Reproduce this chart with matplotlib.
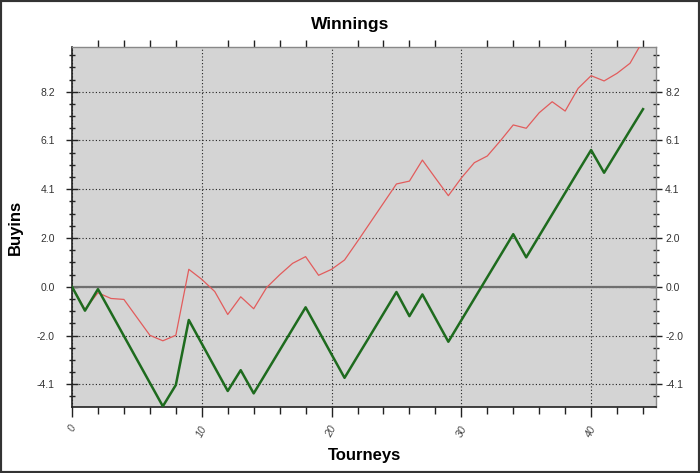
import matplotlib
matplotlib.use("Agg")
import matplotlib.pyplot as plt
from matplotlib.patches import Rectangle
from matplotlib.ticker import MultipleLocator, FuncFormatter, FixedLocator
import matplotlib.transforms as mtransforms

tourneys = list(range(45))
green_vals = [0, -1.0, -0.1, -1.08, -2.06, -3.04, -4.02, -5.0, -4.11, -1.39,
              -2.38, -3.37, -4.36, -3.49, -4.46, -3.56, -2.66, -1.76, -0.86, -1.84,
              -2.83, -3.81, -2.91, -2.02, -1.12, -0.22, -1.23, -0.32, -1.31, -2.30,
              -1.40, -0.50, 0.40, 1.30, 2.20, 1.23, 2.13, 3.03, 3.93, 4.83,
              5.72, 4.77, 5.66, 6.55, 7.43]
red_vals = [0, -0.95, -0.25, -0.49, -0.53, -1.28, -2.03, -2.26, -2.03, 0.73,
            0.31, -0.2, -1.16, -0.42, -0.92, -0.03, 0.5, 0.98, 1.26, 0.48,
            0.73, 1.12, 1.9, 2.7, 3.5, 4.3, 4.42, 5.3, 4.55, 3.81,
            4.55, 5.19, 5.47, 6.1, 6.77, 6.63, 7.28, 7.74, 7.35, 8.3,
            8.83, 8.61, 8.93, 9.35, 10.3]
ytick_step = 2.04
title = "Winnings"
xlabel = "Tourneys"
ylabel = "Buyins"

plt.rcParams['font.family'] = ['Liberation Sans', 'DejaVu Sans']

fig = plt.figure(figsize=(7.0, 4.73), dpi=100)
ax = fig.add_axes([72/700, 1-407/473, 584/700, 360/473])
ax.set_facecolor('#d4d4d4')

ax.set_xlim(0, 45)
ax.set_ylim(-5.03, 10.03)

ax.xaxis.set_major_locator(MultipleLocator(10))
ax.xaxis.set_minor_locator(MultipleLocator(2))
yt = [ytick_step * k for k in range(-2, 5)]
ax.yaxis.set_major_locator(FixedLocator(yt))
ax.yaxis.set_minor_locator(MultipleLocator(ytick_step / 4))
ax.yaxis.set_major_formatter(FuncFormatter(lambda v, p: f"{v:.1f}"))
ax.grid(True, which='major', color='#222222', linestyle=(0, (1, 2)), linewidth=0.8)
ax.set_axisbelow(True)

ax.axhline(0, color='#6f6f6f', linewidth=1.6, zorder=2)

ax.plot(tourneys, red_vals, color='#e25c5c', linewidth=0.9, zorder=3)
ax.plot(tourneys, green_vals, color='#1e6b1e', linewidth=1.8, zorder=4)

ax.tick_params(axis='y', which='major', direction='inout', length=9, width=1,
               left=True, right=True, labelleft=True, labelright=True,
               labelsize=7.5, labelcolor='#333333', color='#222222', pad=5)
ax.tick_params(axis='y', which='minor', direction='inout', length=5, width=1,
               left=True, right=True, color='#222222')
ax.tick_params(axis='x', which='major', direction='out', length=7, width=1,
               top=True, bottom=True, labelsize=7.5, labelcolor='#444444',
               color='#222222', pad=5)
ax.tick_params(axis='x', which='minor', direction='out', length=5, width=1,
               top=True, bottom=True, color='#222222')
for t in ax.xaxis.get_major_ticks():
    t.tick2line.set_markersize(0)
for lab in ax.get_xticklabels():
    lab.set_rotation(62)
    lab.set_style('italic')

# shift left y labels a bit further left
offset = mtransforms.ScaledTranslation(-4/100, 0, fig.dpi_scale_trans)
for lab in ax.yaxis.get_ticklabels(which='major'):
    lab.set_transform(lab.get_transform() + offset)

for s in ['left', 'bottom']:
    ax.spines[s].set_color('#222222')
    ax.spines[s].set_linewidth(1.2)
for s in ['right', 'top']:
    ax.spines[s].set_color('#888888')
    ax.spines[s].set_linewidth(1.0)

ax.set_xlabel(xlabel, fontsize=12, fontweight='bold', labelpad=7)
ax.set_ylabel(ylabel, fontsize=12, fontweight='bold', labelpad=10)
fig.text(0.5, 1 - 24/473, title, ha='center', va='center', fontsize=12.5,
         fontweight='bold')

fig.patches.append(Rectangle((0, 0), 1, 1, transform=fig.transFigure,
                             fill=False, linewidth=3, edgecolor='#333333'))

fig.savefig('out.png', dpi=100)
